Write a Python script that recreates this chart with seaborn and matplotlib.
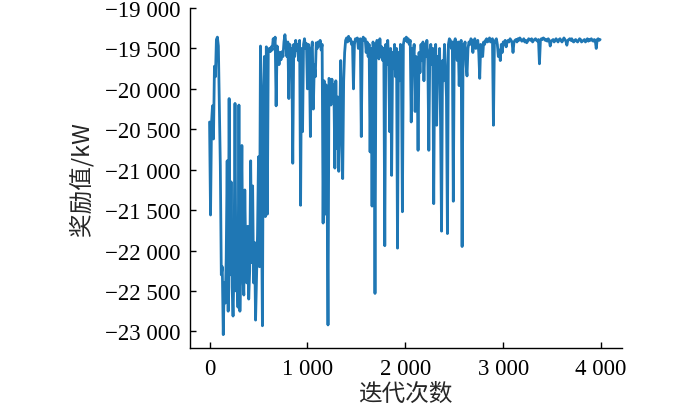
import numpy as np
import pandas as pd
import matplotlib
matplotlib.use("Agg")
import matplotlib.pyplot as plt
import seaborn as sns
from matplotlib.ticker import FuncFormatter, MultipleLocator

# ==============================
# DATA (reward per 10 iterations)
# ==============================
step = 10

reward_0_500 = [
    -20410, -21560, -20420, -20210, -20620, -19720, -19850, -19390, -19360, -19470,
    -20250, -20950, -22300, -22200, -23040, -22400, -22650, -22100, -20890, -22750,
    -20120, -22300, -21150, -22450, -22810, -22200, -20180, -22500, -22050, -22700,
    -20200, -22750, -21900, -20700, -22300, -22550, -21250, -22100, -22400, -21700,
    -22600, -22250, -20890, -22150, -21200, -22400, -21900, -22860, -22300, -21800,
]
reward_500_1000 = [
    -20840, -22200, -19470, -21400, -22930, -20000, -19600, -21580, -19480, -21550,
    -19520, -19500, -19540, -19480, -19520, -19380, -19450, -19360, -20210, -19470,
    -19560, -19700, -19550, -19640, -19540, -19600, -19420, -19330, -19450, -19600,
    -19420, -20120, -19450, -19680, -19500, -20920, -19450, -19600, -19400, -19520,
    -19450, -19650, -19400, -21440, -19500, -20530, -19450, -19380, -19500, -19440,
]
reward_1000_1500 = [
    -20000, -19450, -19600, -20590, -19500, -19420, -20250, -19700, -19850, -19430,
    -19500, -19420, -19470, -19400, -19520, -19450, -21660, -19900, -21550, -19950,
    -21100, -22920, -19870, -19900, -20200, -19880, -20150, -19950, -20980, -19900,
    -20740, -20100, -21020, -20300, -19650, -20500, -21110, -19900, -19550, -19400,
    -19370, -19420, -19350, -19400, -19380, -19450, -19420, -20000, -19450, -19380,
]
reward_1500_2000 = [
    -19400, -19370, -19500, -19420, -19380, -20590, -19420, -19360, -19400, -19380,
    -19550, -19420, -19600, -19450, -20780, -19500, -21450, -19420, -19600, -22530,
    -19450, -19400, -19420, -19630, -19380, -19600, -19480, -19650, -19500, -21940,
    -19450, -19700, -19400, -19650, -20530, -19500, -21070, -19550, -19750, -19450,
    -19850, -19500, -21970, -19550, -19900, -19450, -19700, -21520, -19450, -19380,
]
reward_2000_2500 = [
    -19400, -19360, -19420, -19380, -19450, -19400, -20410, -19500, -19600, -19450,
    -20280, -19600, -19700, -20760, -19550, -19800, -19450, -19650, -19420, -19900,
    -19450, -19600, -19400, -19650, -20760, -19550, -19450, -19700, -19500, -21420,
    -19550, -19450, -20450, -19600, -19800, -19500, -20450, -21760, -19650, -19900,
    -19450, -19700, -20100, -21790, -19450, -19380, -19400, -19500, -19420, -21390,
]
reward_2500_3000 = [
    -19420, -19380, -19500, -19650, -19420, -19960, -19500, -19400, -21950, -19450,
    -19500, -19420, -19700, -19840, -19500, -19420, -19450, -19380, -19400, -19550,
    -19420, -19380, -19500, -19450, -19400, -19550, -19870, -19450, -19480, -19600,
    -19420, -19450, -19400, -19380, -19420, -19400, -19370, -19420, -19400, -19380,
    -20450, -19420, -19400, -19380, -19450, -19600, -19520, -19650, -19450, -19550,
]
reward_3000_3500 = [
    -19420, -19450, -19400, -19480, -19420, -19400, -19420, -19380, -19400, -19420,
    -19550, -19420, -19400, -19390, -19420, -19380, -19400, -19370, -19390, -19410,
    -19400, -19380, -19420, -19400, -19430, -19410, -19380, -19390, -19400, -19380,
    -19420, -19400, -19390, -19380, -19400, -19410, -19390, -19690, -19400, -19380,
    -19390, -19370, -19380, -19400, -19390, -19410, -19380, -19400, -19470, -19410,
]
reward_3500_4000 = [
    -19400, -19390, -19420, -19400, -19380, -19400, -19420, -19390, -19380, -19400,
    -19420, -19400, -19370, -19390, -19410, -19460, -19400, -19390, -19380, -19400,
    -19380, -19410, -19420, -19400, -19390, -19410, -19420, -19400, -19380, -19390,
    -19420, -19410, -19400, -19390, -19420, -19400, -19380, -19410, -19390, -19400,
    -19380, -19400, -19410, -19390, -19400, -19500, -19390, -19380, -19400, -19390,
]

reward = (reward_0_500 + reward_500_1000 + reward_1000_1500 + reward_1500_2000
          + reward_2000_2500 + reward_2500_3000 + reward_3000_3500 + reward_3500_4000)
iterations = np.arange(len(reward)) * step

df = pd.DataFrame({"iter": iterations, "reward": reward})

# ==============================
# STYLE
# ==============================
sns.set_style("ticks")
plt.rcParams['font.family'] = ['Liberation Serif', 'Noto Sans CJK SC', 'DejaVu Sans']
plt.rcParams['axes.unicode_minus'] = True

fig = plt.figure(figsize=(7.0, 4.06), dpi=100)
ax = fig.add_axes([0.2714, 0.1404, 0.6167, 0.8374])

sns.lineplot(data=df, x="iter", y="reward", ax=ax, color="#1f77b4", linewidth=2.0)

ax.set_xlim(-200, 4210)
ax.set_ylim(-23205, -19000)
ax.xaxis.set_major_locator(MultipleLocator(1000))
ax.yaxis.set_major_locator(MultipleLocator(500))


def fmt(v, pos):
    s = f"{int(round(v)):,}".replace(",", " ")
    return s.replace("-", "\u2212")


ax.xaxis.set_major_formatter(FuncFormatter(fmt))
ax.yaxis.set_major_formatter(FuncFormatter(fmt))

ax.tick_params(direction="in", length=4, width=1, labelsize=16.5, pad=7, colors="black")
ax.set_xlabel("迭代次数", fontsize=17, family=['Noto Sans CJK SC'], labelpad=2)
ax.set_ylabel("奖励值/kW", fontsize=17, family=['Noto Sans CJK SC', 'Liberation Serif'], labelpad=8)

sns.despine(ax=ax)
for sp in ax.spines.values():
    sp.set_color("black")
    sp.set_linewidth(1.0)

fig.savefig("out.png", dpi=100)
